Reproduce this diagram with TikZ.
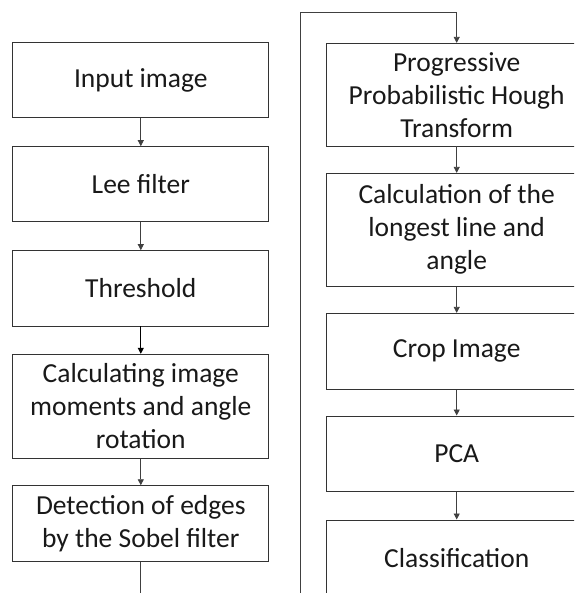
\documentclass[tikz,border=0pt]{standalone}
\usepackage{fontspec}
\setmainfont{Carlito}
\usetikzlibrary{arrows.meta}
\tikzset{
  box/.style={draw=black!80, line width=0.9pt, fill=white, minimum width=256pt, inner sep=0pt, align=center, text=black!90, font=\fontsize{27.5}{33}\selectfont},
  rbox/.style={box, minimum width=260pt},
  conn/.style={draw=black!75, line width=0.8pt, -{Triangle[width=6pt,length=6pt]}},
  plainconn/.style={draw=black!75, line width=0.8pt}
}
\begin{document}
\begin{tikzpicture}[x=1pt,y=-1pt]
\useasboundingbox (0,0) rectangle (574,593);
\clip (0,0) rectangle (574,593);
\fill[white] (0,0) rectangle (574,593);
% left column
\node[box, minimum height=75.3pt] (inp) at (140.8,80.3) {Input image};
\node[box, minimum height=75.3pt] (lee) at (140.8,184.3) {Lee filter};
\node[box, minimum height=75.3pt] (thr) at (140.8,288.3) {Threshold};
\node[box, minimum height=104pt] (mom) at (140.8,406.3) {Calculating image\\moments and angle\\rotation};
\node[box, minimum height=76pt] (sob) at (140.8,523.7) {Detection of edges\\by the Sobel filter};
% right column
\node[rbox, minimum height=102.7pt] (hou) at (456.7,94.7) {Progressive\\Probabilistic Hough\\Transform};
\node[rbox, minimum height=112.7pt] (lon) at (456.7,229.7) {Calculation of the\\longest line and\\angle};
\node[rbox, minimum height=75.7pt] (crp) at (456.7,351.2) {Crop Image};
\node[rbox, minimum height=75.7pt] (pca) at (456.7,453.8) {PCA};
\node[rbox, minimum height=75.7pt] (cls) at (456.7,557.8) {Classification};
% connectors
\draw[conn] (inp) -- (lee);
\draw[conn] (lee) -- (thr);
\draw[conn, line width=1pt, draw=black] (thr) -- (mom);
\draw[conn] (mom) -- (sob);
\coordinate (lowturn) at (140.8,620);
\coordinate (upturn) at (300.7,12);
\draw[conn] (sob.south) -- (lowturn) -| (upturn) -| (hou.north);
\draw[conn] (hou) -- (lon);
\draw[conn] (lon) -- (crp);
\draw[conn] (crp) -- (pca);
\draw[conn] (pca) -- (cls);
\end{tikzpicture}
\end{document}
